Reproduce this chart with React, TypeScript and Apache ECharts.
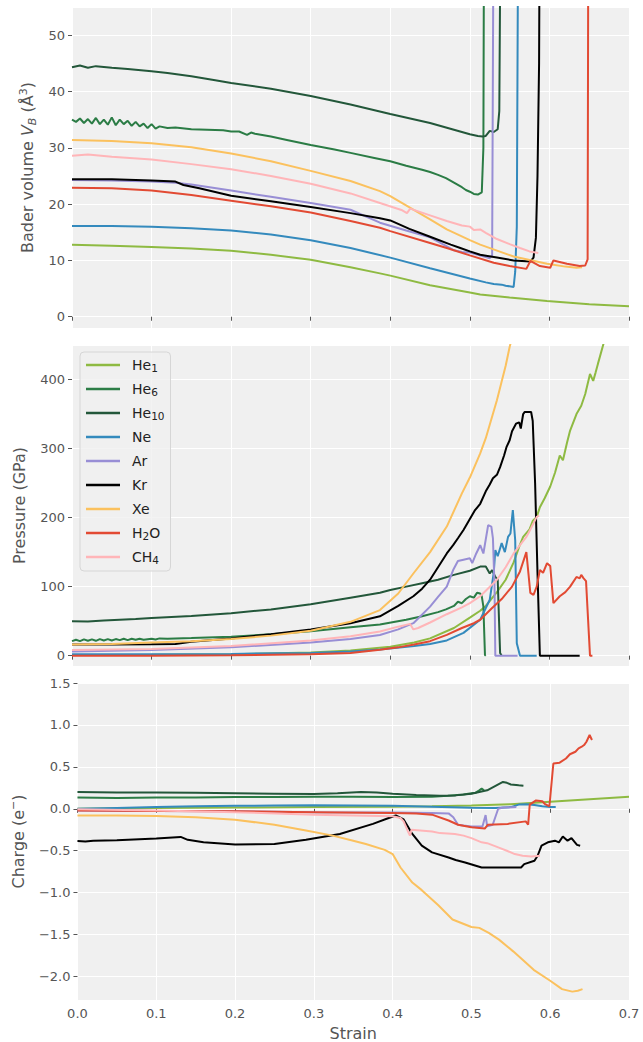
import React, { useEffect, useRef } from 'react';
import * as echarts from 'echarts';

// ---------- names / colours ----------
const seriesNames = ['He1', 'He6', 'He10', 'Ne', 'Ar', 'Kr', 'Xe', 'H2O', 'CH4'];
const seriesColors = ['#8EBA42', '#2B7C45', '#23573A', '#348ABD', '#988ED5', '#000000', '#FBC15E', '#E24A33', '#FFB5B8'];
const legendLabels: Record<string, string> = {
  He1: 'He{s|1}', He6: 'He{s|6}', He10: 'He{s|10}', Ne: 'Ne', Ar: 'Ar', Kr: 'Kr', Xe: 'Xe', H2O: 'H{s|2}O', CH4: 'CH{s|4}',
};
const xTicks = [0, 0.1, 0.2, 0.3, 0.4, 0.5, 0.6, 0.7];

// ---------- panel 1: Bader volume (Å^3) vs strain ----------
const he1Vol = [[0, 12.8], [0.05, 12.6], [0.1, 12.4], [0.15, 12.1], [0.2, 11.7], [0.25, 11.0], [0.3, 10.1], [0.35, 8.8], [0.387, 7.7], [0.4, 7.3], [0.45, 5.6], [0.5, 4.3], [0.513, 3.95], [0.55, 3.4], [0.597, 2.8], [0.65, 2.2], [0.7, 1.85]];
const he6Vol = [[0, 35.0], [0.005, 34.6], [0.01, 35.2], [0.015, 34.4], [0.02, 35.1], [0.025, 34.3], [0.03, 35.3], [0.035, 34.2], [0.04, 35.0], [0.045, 34.1], [0.05, 35.4], [0.055, 34.0], [0.06, 35.0], [0.065, 34.2], [0.07, 34.8], [0.075, 33.9], [0.08, 34.6], [0.085, 33.8], [0.09, 34.3], [0.095, 33.5], [0.1, 34.2], [0.105, 33.4], [0.11, 33.8], [0.12, 33.5], [0.13, 33.6], [0.15, 33.3], [0.17, 33.2], [0.19, 33.1], [0.2, 32.9], [0.21, 32.9], [0.22, 32.3], [0.225, 32.7], [0.23, 32.5], [0.25, 32.0], [0.27, 31.4], [0.3, 30.5], [0.33, 29.7], [0.35, 29.1], [0.38, 28.2], [0.4, 27.6], [0.42, 26.8], [0.44, 26.1], [0.45, 25.7], [0.46, 25.2], [0.47, 24.6], [0.48, 23.8], [0.49, 23.0], [0.495, 22.5], [0.5, 22.2], [0.505, 21.8], [0.51, 21.7], [0.515, 22.1], [0.517, 30], [0.518, 80]];
const he10Vol = [[0, 44.3], [0.01, 44.6], [0.02, 44.2], [0.03, 44.5], [0.05, 44.2], [0.07, 44.0], [0.1, 43.6], [0.12, 43.3], [0.15, 42.7], [0.18, 42.0], [0.2, 41.5], [0.25, 40.5], [0.3, 39.2], [0.35, 37.7], [0.4, 36.0], [0.45, 34.4], [0.48, 33.2], [0.5, 32.4], [0.51, 32.1], [0.516, 32.0], [0.52, 32.1], [0.525, 33.0], [0.53, 32.8], [0.535, 33.3], [0.537, 36.5], [0.539, 80]];
const neVol = [[0, 16.1], [0.05, 16.1], [0.1, 16.0], [0.15, 15.7], [0.2, 15.3], [0.25, 14.6], [0.3, 13.6], [0.35, 12.2], [0.4, 10.5], [0.45, 8.6], [0.5, 6.8], [0.52, 6.1], [0.53, 5.8], [0.54, 5.7], [0.545, 5.5], [0.555, 5.3], [0.557, 8], [0.559, 16], [0.561, 80]];
const arVol = [[0, 24.3], [0.05, 24.2], [0.1, 24.0], [0.13, 23.8], [0.15, 23.5], [0.2, 22.4], [0.25, 21.3], [0.3, 20.2], [0.35, 19.0], [0.387, 16.7], [0.42, 15.3], [0.45, 14.1], [0.47, 12.6], [0.48, 11.8], [0.49, 11.5], [0.5, 11.4], [0.51, 11.0], [0.52, 10.6], [0.525, 10.4], [0.528, 10.9], [0.53, 80]];
const krVol = [[0, 24.4], [0.05, 24.4], [0.1, 24.2], [0.13, 24.0], [0.14, 23.4], [0.16, 22.8], [0.2, 21.5], [0.25, 20.5], [0.3, 19.5], [0.35, 18.4], [0.387, 17.5], [0.4, 17.1], [0.424, 15.6], [0.45, 14.2], [0.476, 12.8], [0.488, 12.2], [0.5, 11.6], [0.513, 11.0], [0.534, 10.5], [0.555, 10.0], [0.576, 9.8], [0.58, 10.5], [0.583, 14], [0.585, 25], [0.587, 45], [0.588, 80]];
const xeVol = [[0, 31.4], [0.05, 31.2], [0.1, 30.8], [0.15, 30.1], [0.2, 29.0], [0.25, 27.6], [0.3, 25.9], [0.35, 24.1], [0.387, 22.3], [0.4, 21.4], [0.429, 19.0], [0.45, 17.3], [0.471, 15.5], [0.5, 13.6], [0.513, 12.8], [0.555, 10.7], [0.597, 9.4], [0.62, 8.9], [0.634, 8.7], [0.641, 8.8]];
const h2oVol = [[0, 22.9], [0.05, 22.8], [0.1, 22.4], [0.15, 21.6], [0.2, 20.6], [0.25, 19.6], [0.3, 18.5], [0.35, 17.0], [0.387, 15.8], [0.4, 15.2], [0.45, 13.1], [0.471, 12.2], [0.5, 10.9], [0.53, 9.6], [0.55, 9.0], [0.571, 8.5], [0.576, 9.9], [0.58, 9.6], [0.588, 9.0], [0.601, 8.7], [0.605, 10.0], [0.622, 9.4], [0.638, 9.0], [0.645, 9.1], [0.648, 10.2], [0.649, 80]];
const ch4Vol = [[0, 28.6], [0.02, 28.8], [0.05, 28.4], [0.1, 27.9], [0.15, 27.1], [0.2, 26.2], [0.25, 25.0], [0.3, 23.6], [0.35, 21.9], [0.387, 20.2], [0.415, 18.9], [0.421, 18.4], [0.425, 19.2], [0.45, 18.0], [0.471, 17.0], [0.49, 16.2], [0.5, 16.0], [0.505, 15.4], [0.513, 15.5], [0.52, 14.9], [0.534, 13.8], [0.55, 12.9], [0.563, 12.2], [0.575, 11.6], [0.586, 11.3]];

// ---------- panel 2: pressure (GPa) vs strain ----------
const he1P = [[0, 1.0], [0.1, 1.3], [0.2, 2.0], [0.3, 4.5], [0.35, 7.5], [0.4, 13], [0.43, 19], [0.45, 25], [0.48, 40], [0.5, 55], [0.513, 65], [0.52, 72], [0.534, 92], [0.545, 110], [0.555, 135], [0.562, 158], [0.567, 172], [0.575, 183], [0.579, 195], [0.584, 201], [0.588, 215], [0.594, 228], [0.601, 245], [0.607, 265], [0.613, 290], [0.617, 283], [0.622, 308], [0.626, 326], [0.634, 350], [0.64, 362], [0.645, 379], [0.651, 408], [0.655, 398], [0.658, 410], [0.661, 423], [0.668, 452], [0.675, 490]];
const he6P = [[0, 21], [0.005, 23], [0.01, 21], [0.015, 23.5], [0.02, 21.5], [0.025, 23.5], [0.03, 21.5], [0.035, 24], [0.04, 22], [0.045, 24], [0.05, 22], [0.055, 24], [0.06, 22.5], [0.065, 24.5], [0.07, 22.5], [0.075, 24.5], [0.08, 23], [0.085, 24.5], [0.09, 23], [0.1, 24.5], [0.105, 23.5], [0.11, 25], [0.12, 24.5], [0.15, 25.5], [0.2, 27.5], [0.25, 31], [0.3, 35.5], [0.35, 41], [0.387, 45], [0.42, 52], [0.44, 57], [0.46, 63], [0.47, 67], [0.48, 72], [0.485, 78], [0.49, 76], [0.495, 82], [0.5, 86], [0.505, 84], [0.509, 91], [0.513, 90], [0.515, 86], [0.517, 71], [0.519, 1], [0.52, 0]];
const he10P = [[0, 50], [0.02, 49.5], [0.04, 51], [0.06, 52], [0.08, 53], [0.1, 54.5], [0.15, 57.5], [0.2, 61.5], [0.25, 67], [0.3, 74.5], [0.35, 84], [0.387, 91], [0.4, 95], [0.42, 100], [0.44, 105], [0.46, 110], [0.48, 117], [0.5, 123], [0.513, 129], [0.52, 129], [0.525, 119], [0.528, 124], [0.532, 114], [0.535, 110], [0.538, 4], [0.54, 0]];
const neP = [[0, 2], [0.1, 2], [0.2, 2.5], [0.3, 4], [0.35, 6], [0.387, 9], [0.43, 14], [0.45, 17], [0.471, 22], [0.492, 33], [0.513, 52], [0.525, 81], [0.53, 120], [0.532, 153], [0.535, 144], [0.54, 163], [0.544, 150], [0.548, 172], [0.551, 177], [0.554, 211], [0.557, 167], [0.559, 18], [0.563, 0], [0.584, 0]];
const arP = [[0, 6], [0.1, 8], [0.2, 12], [0.3, 19], [0.35, 24], [0.387, 30], [0.41, 38], [0.429, 47], [0.45, 71], [0.46, 85], [0.471, 100], [0.479, 124], [0.485, 137], [0.492, 139], [0.5, 141], [0.503, 134], [0.508, 148], [0.513, 160], [0.517, 148], [0.523, 189], [0.527, 187], [0.529, 170], [0.531, 100], [0.532, 0], [0.56, 0]];
const krP = [[0, 16], [0.05, 16], [0.1, 16.5], [0.13, 17], [0.15, 20], [0.2, 25], [0.25, 31], [0.3, 38], [0.35, 47], [0.387, 57], [0.41, 72], [0.429, 86], [0.44, 97], [0.45, 110], [0.46, 128], [0.471, 148], [0.479, 160], [0.485, 170], [0.492, 182], [0.5, 198], [0.506, 210], [0.513, 220], [0.52, 238], [0.525, 248], [0.529, 257], [0.534, 262], [0.538, 273], [0.543, 290], [0.546, 302], [0.55, 312], [0.553, 325], [0.558, 336], [0.562, 338], [0.564, 329], [0.567, 350], [0.569, 353], [0.577, 353], [0.579, 340], [0.582, 250], [0.585, 120], [0.588, 0], [0.638, 0]];
const xeP = [[0, 16], [0.05, 17], [0.1, 19], [0.15, 21], [0.2, 24], [0.25, 29], [0.3, 36], [0.35, 49], [0.387, 66], [0.41, 90], [0.429, 119], [0.45, 150], [0.471, 187], [0.49, 235], [0.5, 258], [0.513, 293], [0.52, 315], [0.534, 370], [0.545, 420], [0.55, 447], [0.555, 470]];
const h2oP = [[0, 0], [0.1, 0], [0.2, 0.5], [0.3, 2], [0.35, 4], [0.387, 8.7], [0.41, 12], [0.43, 16], [0.45, 21], [0.471, 30], [0.49, 40], [0.505, 47], [0.513, 52], [0.527, 68], [0.54, 82], [0.553, 100], [0.563, 122], [0.571, 150], [0.576, 91], [0.58, 88], [0.584, 100], [0.588, 124], [0.592, 120], [0.597, 134], [0.601, 130], [0.605, 76], [0.613, 86], [0.62, 92], [0.626, 100], [0.634, 114], [0.638, 112], [0.64, 117], [0.643, 112], [0.646, 108], [0.651, 0], [0.654, 0]];
const ch4P = [[0, 8], [0.1, 9.5], [0.2, 14], [0.3, 22], [0.35, 28], [0.387, 35], [0.41, 42], [0.425, 46], [0.429, 38], [0.435, 40], [0.45, 48], [0.471, 60], [0.49, 70], [0.5, 76], [0.513, 86], [0.52, 94], [0.534, 110], [0.545, 128], [0.555, 148], [0.563, 160], [0.571, 172], [0.577, 185], [0.584, 201], [0.587, 203]];

// ---------- panel 3: Bader charge (e-) vs strain ----------
const he1Q = [[0, 0.0], [0.1, 0.008], [0.2, 0.015], [0.3, 0.02], [0.4, 0.025], [0.45, 0.03], [0.5, 0.04], [0.55, 0.055], [0.6, 0.085], [0.65, 0.115], [0.7, 0.145]];
const he6Q = [[0, 0.135], [0.05, 0.13], [0.1, 0.135], [0.15, 0.135], [0.2, 0.14], [0.25, 0.14], [0.3, 0.145], [0.35, 0.145], [0.4, 0.14], [0.45, 0.145], [0.47, 0.155], [0.49, 0.17], [0.5, 0.185], [0.505, 0.19], [0.51, 0.22], [0.513, 0.24], [0.516, 0.22]];
const he10Q = [[0, 0.2], [0.05, 0.195], [0.1, 0.195], [0.15, 0.19], [0.2, 0.185], [0.25, 0.18], [0.3, 0.175], [0.33, 0.185], [0.36, 0.2], [0.38, 0.195], [0.4, 0.18], [0.43, 0.165], [0.46, 0.155], [0.48, 0.16], [0.5, 0.18], [0.52, 0.22], [0.53, 0.27], [0.54, 0.32], [0.545, 0.31], [0.55, 0.29], [0.56, 0.28], [0.566, 0.275]];
const neQ = [[0, 0.0], [0.05, 0.01], [0.1, 0.02], [0.15, 0.03], [0.2, 0.035], [0.25, 0.04], [0.3, 0.042], [0.35, 0.04], [0.4, 0.035], [0.45, 0.025], [0.5, 0.012], [0.53, 0.01], [0.55, 0.02], [0.56, 0.05], [0.57, 0.055], [0.58, 0.045], [0.59, 0.03], [0.6, 0.02], [0.607, 0.02]];
const arQ = [[0, -0.02], [0.1, -0.025], [0.2, -0.03], [0.3, -0.04], [0.4, -0.045], [0.45, -0.05], [0.471, -0.055], [0.477, -0.1], [0.483, -0.19], [0.49, -0.2], [0.5, -0.21], [0.514, -0.21], [0.518, -0.075], [0.52, -0.21], [0.527, -0.19], [0.534, 0.0], [0.54, 0.015], [0.557, 0.02]];
const krQ = [[0, -0.385], [0.01, -0.39], [0.02, -0.38], [0.05, -0.375], [0.1, -0.355], [0.131, -0.335], [0.14, -0.37], [0.16, -0.4], [0.2, -0.425], [0.25, -0.42], [0.29, -0.37], [0.333, -0.3], [0.375, -0.18], [0.395, -0.11], [0.404, -0.08], [0.414, -0.127], [0.425, -0.3], [0.437, -0.44], [0.45, -0.52], [0.471, -0.58], [0.48, -0.61], [0.492, -0.64], [0.513, -0.7], [0.534, -0.7], [0.563, -0.7], [0.567, -0.66], [0.58, -0.62], [0.584, -0.56], [0.589, -0.44], [0.597, -0.40], [0.606, -0.38], [0.611, -0.40], [0.616, -0.33], [0.622, -0.38], [0.627, -0.35], [0.634, -0.43], [0.638, -0.44]];
const xeQ = [[0, -0.08], [0.05, -0.08], [0.1, -0.085], [0.15, -0.1], [0.2, -0.13], [0.25, -0.19], [0.29, -0.26], [0.324, -0.32], [0.35, -0.38], [0.366, -0.42], [0.39, -0.49], [0.4, -0.54], [0.41, -0.7], [0.425, -0.88], [0.437, -0.97], [0.458, -1.15], [0.476, -1.32], [0.5, -1.41], [0.51, -1.42], [0.522, -1.48], [0.535, -1.56], [0.553, -1.7], [0.565, -1.8], [0.579, -1.92], [0.6, -2.05], [0.615, -2.15], [0.628, -2.18], [0.635, -2.17], [0.641, -2.15]];
const h2oQ = [[0, -0.02], [0.1, -0.025], [0.2, -0.03], [0.3, -0.04], [0.4, -0.05], [0.43, -0.055], [0.45, -0.07], [0.471, -0.14], [0.483, -0.19], [0.5, -0.22], [0.517, -0.235], [0.521, -0.19], [0.546, -0.18], [0.569, -0.15], [0.572, -0.19], [0.574, 0.05], [0.582, 0.1], [0.59, 0.09], [0.593, 0.06], [0.599, 0.03], [0.604, 0.54], [0.612, 0.55], [0.62, 0.6], [0.625, 0.65], [0.632, 0.68], [0.636, 0.72], [0.64, 0.74], [0.643, 0.76], [0.646, 0.8], [0.65, 0.88], [0.653, 0.82]];
const ch4Q = [[0, -0.005], [0.1, -0.02], [0.2, -0.04], [0.3, -0.07], [0.35, -0.08], [0.4, -0.09], [0.41, -0.11], [0.414, -0.15], [0.42, -0.28], [0.422, -0.32], [0.424, -0.25], [0.45, -0.27], [0.46, -0.29], [0.479, -0.3], [0.49, -0.32], [0.5, -0.35], [0.513, -0.4], [0.52, -0.41], [0.534, -0.46], [0.545, -0.5], [0.555, -0.54], [0.565, -0.56], [0.576, -0.57], [0.587, -0.56]];

const volumeSeries = [he1Vol, he6Vol, he10Vol, neVol, arVol, krVol, xeVol, h2oVol, ch4Vol];
const pressureSeries = [he1P, he6P, he10P, neP, arP, krP, xeP, h2oP, ch4P];
const chargeSeries = [he1Q, he6Q, he10Q, neQ, arQ, krQ, xeQ, h2oQ, ch4Q];

const FONT = 'DejaVu Sans';
const GRAY = '#555555';
const BG = '#F0F0F0';

function fmtMinus(v: number, digits: number) {
  const s = v.toFixed(digits);
  return s.replace('-', '\u2212');
}

export default function App() {
  const ref = useRef<HTMLDivElement>(null);
  useEffect(() => {
    if (!ref.current) return;
    const chart = echarts.init(ref.current, undefined, { renderer: 'svg' });

    const grids = [
      { left: 72, top: 7, width: 557, height: 321 },
      { left: 72, top: 345, width: 557, height: 321 },
      { left: 72, top: 683, width: 557, height: 320 },
    ].map((g) => ({ ...g, show: true, backgroundColor: BG, borderWidth: 0, containLabel: false }));

    const xAxes = [0, 1, 2].map((i) => ({
      type: 'value',
      gridIndex: i,
      min: xTicks[0],
      max: xTicks[xTicks.length - 1],
      interval: 0.1,
      axisLine: { show: false },
      axisTick: { show: true, length: 4, lineStyle: { color: GRAY, width: 1 } },
      axisLabel: {
        show: i === 2,
        color: GRAY,
        fontSize: 13,
        fontFamily: FONT,
        margin: 7,
        formatter: (v: number) => v.toFixed(1),
      },
      splitLine: { show: true, lineStyle: { color: '#FFFFFF', width: 1 } },
      name: i === 2 ? 'Strain' : '',
      nameLocation: 'middle',
      nameGap: 25,
      nameTextStyle: { color: GRAY, fontSize: 16, fontFamily: FONT },
    }));

    const nameRich = {
      it: { fontStyle: 'italic', fontSize: 16, fontFamily: FONT, color: GRAY },
      itsub: { fontStyle: 'italic', fontSize: 11, fontFamily: FONT, color: GRAY, verticalAlign: 'bottom', lineHeight: 8 },
      sup: { fontSize: 11, fontFamily: FONT, color: GRAY, verticalAlign: 'top', lineHeight: 8 },
    };

    const yCommon = {
      type: 'value',
      axisLine: { show: false },
      axisTick: { show: true, length: 4, lineStyle: { color: GRAY, width: 1 } },
      splitLine: { show: true, lineStyle: { color: '#FFFFFF', width: 1 } },
      nameLocation: 'middle',
      nameRotate: 90,
    };

    const yAxes = [
      {
        ...yCommon,
        gridIndex: 0,
        min: -2,
        max: 55,
        splitNumber: 6,
        axisLabel: { color: GRAY, fontSize: 13, fontFamily: FONT, margin: 7, showMinLabel: false, showMaxLabel: false, formatter: (v: number) => fmtMinus(v, 0) },
        name: 'Bader volume {it|V}{itsub|B} (Å{sup|3})',
        nameGap: 28,
        nameTextStyle: { color: GRAY, fontSize: 16, fontFamily: FONT, lineHeight: 20, rich: nameRich },
      },
      {
        ...yCommon,
        gridIndex: 1,
        min: -15,
        max: 450,
        splitNumber: 5,
        axisLabel: { color: GRAY, fontSize: 13, fontFamily: FONT, margin: 7, showMinLabel: false, showMaxLabel: false, formatter: (v: number) => fmtMinus(v, 0) },
        name: 'Pressure (GPa)',
        nameGap: 37,
        nameTextStyle: { color: GRAY, fontSize: 16, fontFamily: FONT, lineHeight: 20 },
      },
      {
        ...yCommon,
        gridIndex: 2,
        min: -2.28,
        max: 1.5,
        splitNumber: 7,
        axisLabel: { color: GRAY, fontSize: 13, fontFamily: FONT, margin: 7, showMinLabel: false, showMaxLabel: true, formatter: (v: number) => fmtMinus(v, 1) },
        name: 'Charge (e{sup|\u2212})',
        nameGap: 44,
        nameTextStyle: { color: GRAY, fontSize: 16, fontFamily: FONT, lineHeight: 20, rich: nameRich },
      },
    ];

    const panels = [volumeSeries, pressureSeries, chargeSeries];
    const series: any[] = [];
    panels.forEach((panel, gi) => {
      panel.forEach((data, si) => {
        series.push({
          type: 'line',
          name: seriesNames[si],
          xAxisIndex: gi,
          yAxisIndex: gi,
          data,
          symbol: 'none',
          showSymbol: false,
          clip: true,
          silent: true,
          lineStyle: { color: seriesColors[si], width: 2 },
          itemStyle: { color: seriesColors[si] },
          emphasis: { disabled: true },
        });
      });
    });

    chart.setOption({
      animation: false,
      grid: grids,
      xAxis: xAxes,
      yAxis: yAxes,
      legend: {
        data: seriesNames.map((n) => ({ name: n, icon: 'rect' })),
        orient: 'vertical',
        left: 80,
        top: 352,
        itemWidth: 34,
        itemHeight: 2.5,
        itemGap: 8,
        padding: [5, 6, 6, 6],
        backgroundColor: 'rgba(240,240,240,0.8)',
        borderColor: '#D6D6D6',
        borderWidth: 1,
        borderRadius: 4,
        selectedMode: false,
        formatter: (name: string) => legendLabels[name] || name,
        textStyle: {
          color: '#222222',
          fontSize: 14,
          fontFamily: FONT,
          lineHeight: 16,
          padding: [0, 0, 0, 7],
          rich: {
            s: { fontSize: 10.5, fontFamily: FONT, color: '#222222', verticalAlign: 'bottom', lineHeight: 8 },
          },
        },
      },
      series,
    });

    return () => chart.dispose();
  }, []);

  return <div ref={ref} style={{ position: 'absolute', left: 0, top: 0, width: 643, height: 1042 }} />;
}
